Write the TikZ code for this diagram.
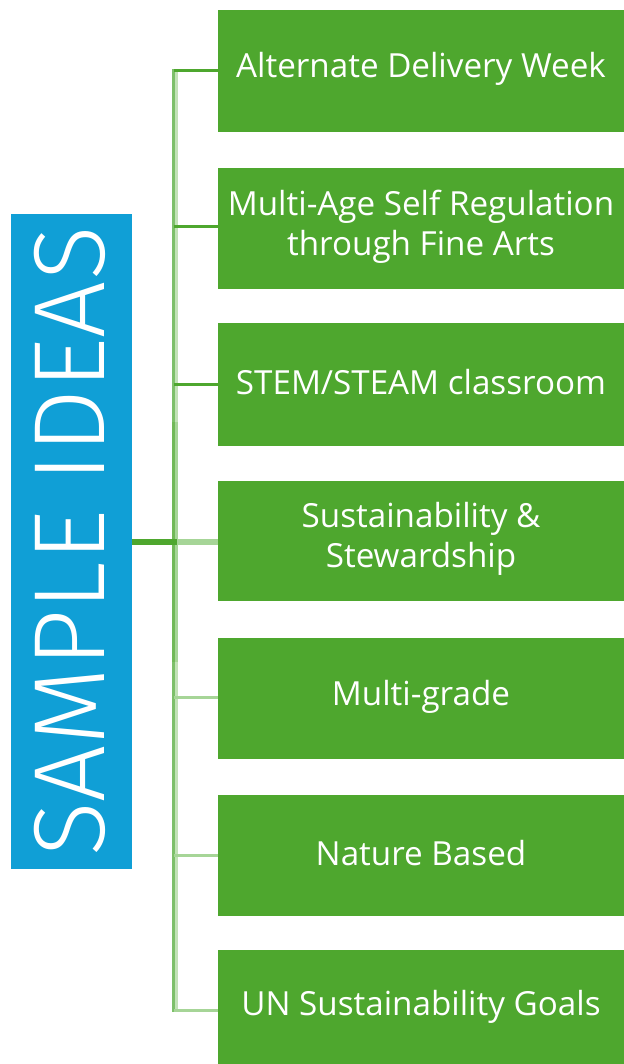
\documentclass[tikz,border=0pt]{standalone}
\usepackage{fontspec}
\setmainfont{Open Sans}
\newfontfamily\thinfont{Fira Sans Light}
\definecolor{gbox}{HTML}{4EA72E}
\definecolor{bbox}{HTML}{109FD6}
\definecolor{gmid}{HTML}{7DC06A}
\definecolor{glight}{HTML}{A6D597}
\definecolor{gpale}{HTML}{C2E2B7}
\begin{document}
\begin{tikzpicture}[x=0.5pt,y=-0.5pt,
  idea/.style={text=white,align=center,inner sep=0pt,
    font=\fontsize{16.6}{20}\selectfont},
  boxfill/.style={fill=gbox},
  dk/.style={draw=gbox,line width=1.5pt},
  lt/.style={draw=glight,line width=1.5pt}]
\useasboundingbox (0,0) rectangle (624,1064);
\fill[white] (0,0) rectangle (624,1064);
% blue title box
\fill[bbox] (11,214) rectangle (132,869);
\node[rotate=90,text=white,font=\thinfont\fontsize{50.5}{50}\selectfont,inner sep=0pt] (title) at (70,541.5) {SAMPLE IDEAS};
\coordinate (blue) at (132,541.5);
% green boxes
\fill[boxfill] (218,10) rectangle (624,132);
\node[idea] (b1) at (421,69) {Alternate Delivery Week};
\fill[boxfill] (218,168) rectangle (624,289);
\node[idea] (b2) at (421,226.5) {Multi-Age Self Regulation\\through Fine Arts};
\fill[boxfill] (218,323) rectangle (624,446);
\node[idea] (b3) at (421,382.5) {STEM/STEAM classroom};
\fill[boxfill] (218,481) rectangle (624,601);
\node[idea] (b4) at (421,539) {Sustainability \&\\Stewardship};
\fill[boxfill] (218,638) rectangle (624,759);
\node[idea] (b5) at (421,696.5) {Multi-grade};
\fill[boxfill] (218,795) rectangle (624,916);
\node[idea] (b6) at (421,853.5) {Nature Based};
\fill[boxfill] (218,950) rectangle (624,1064);
\node[idea] (b7) at (421,1007) {UN Sustainability Goals};
% anchors on box left edges
\coordinate (e1) at (218,71);
\coordinate (e2) at (218,227);
\coordinate (e3) at (218,384);
\coordinate (e4) at (218,542);
\coordinate (e5) at (218,697);
\coordinate (e6) at (218,855);
\coordinate (e7) at (218,1010);
\coordinate (vtop) at (173.5,69.5);
\coordinate (vbot) at (173.5,1011.5);
\coordinate (vtop2) at (176.5,69.5);
\coordinate (vbot2) at (176.5,1011.5);
% vertical spine
\draw[gpale,line width=1.5pt] (vtop2) -- (vbot2);
\draw[gmid,line width=1.5pt] (vtop) -- (vbot);
\draw[glight,line width=1.5pt] ([yshift=-60pt]vtop2 |- blue) -- ([yshift=60pt]vtop2 |- blue);
\draw[gbox!80!white,line width=1.5pt] ([yshift=-60pt]vtop |- blue) -- ([yshift=60pt]vtop |- blue);
% branches
\draw[dk] (vtop |- e1) -- (e1);
\draw[dk] (vtop |- e2) -- (e2);
\draw[dk] (vtop |- e3) -- (e3);
\draw[glight,line width=3pt] (vtop |- e4) -- (e4);
\draw[lt] (vtop |- e5) -- (e5);
\draw[lt] (vtop |- e6) -- (e6);
\draw[lt] (vtop |- e7) -- (e7);
\draw[gbox,line width=3pt] (blue) -- (vbot2 |- blue);
\end{tikzpicture}
\end{document}
